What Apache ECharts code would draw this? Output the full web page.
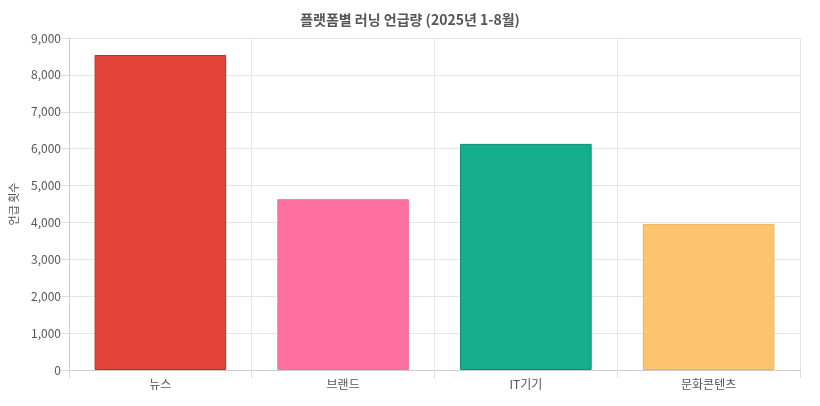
<!DOCTYPE html>
<html>
<head>
<meta charset="utf-8">
<script src="https://cdn.jsdelivr.net/npm/echarts@6/dist/echarts.min.js"></script>
<style>html,body{margin:0;padding:0;background:#fff}#c{width:820px;height:406px}</style>
</head>
<body>
<div id="c"></div>
<script>
// 플랫폼별 러닝 언급량
const categories = ['뉴스', '브랜드', 'IT기기', '문화콘텐츠'];
const mentions = [8540, 4630, 6130, 3960];
const fills = ['#e3443a', '#ff6f9f', '#14ae8c', '#fcc46d'];
const borders = ['#b8322a', '#f0709a', '#0e8f72', '#f0b45a'];

const chart = echarts.init(document.getElementById('c'));
const font = "'Noto Sans CJK KR', 'Noto Sans', sans-serif";

chart.setOption({
    textStyle: { fontFamily: font },
    title: {
        text: '플랫폼별 러닝 언급량 (2025년 1-8월)',
        left: 'center', top: 8,
        textStyle: { fontSize: 14, fontWeight: 'bold', color: '#555', fontFamily: font }
    },
    grid: { left: 65, right: 20, top: 38, bottom: 36 },
    xAxis: [{
        type: 'category',
        data: categories,
        axisLine: { lineStyle: { color: '#ccc' } },
        axisTick: { show: true, alignWithLabel: false, length: 8, lineStyle: { color: '#ddd' } },
        splitLine: { show: true, lineStyle: { color: '#e6e6e6' } },
        axisLabel: { color: '#555', fontSize: 12, fontFamily: font }
    }],
    yAxis: {
        type: 'value',
        min: 0, max: 9000, interval: 1000,
        name: '언급 횟수',
        nameLocation: 'middle',
        nameGap: 50,
        nameTextStyle: { color: '#555', fontSize: 11, fontFamily: font },
        axisLine: { show: true, lineStyle: { color: '#ccc' } },
        axisTick: { show: true, length: 8, lineStyle: { color: '#ddd' } },
        splitLine: { lineStyle: { color: '#e6e6e6' } },
        axisLabel: {
            color: '#555', fontSize: 12,
            formatter: v => v.toLocaleString('en-US')
        }
    },
    series: [{
        type: 'bar',
        barWidth: '72%',
        data: mentions.map((v, i) => ({
            value: v,
            itemStyle: { color: fills[i], borderColor: borders[i], borderWidth: 1 }
        }))
    }]
});
</script>
</body>
</html>
